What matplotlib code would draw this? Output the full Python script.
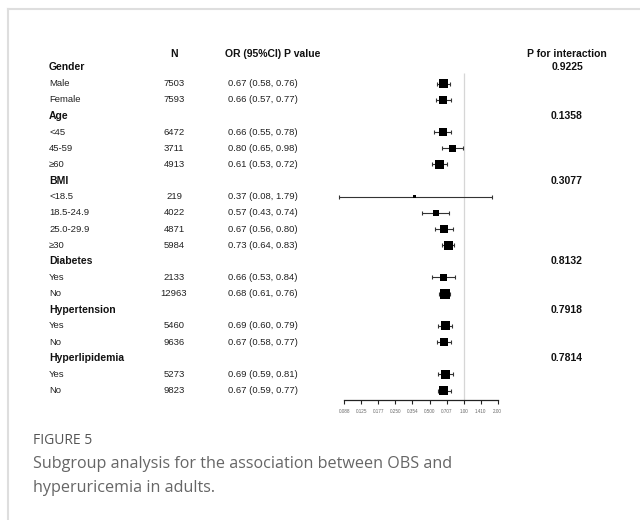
import numpy as np
import matplotlib
matplotlib.use("Agg")
import matplotlib.pyplot as plt
from matplotlib.lines import Line2D

plt.rcParams['font.family'] = ['Liberation Sans', 'DejaVu Sans']

# rows of the forest table (group headers have no estimate)
labels = ["Gender", "Male", "Female",
          "Age", "<45", "45-59", "≥60",
          "BMI", "<18.5", "18.5-24.9", "25.0-29.9", "≥30",
          "Diabetes", "Yes", "No",
          "Hypertension", "Yes", "No",
          "Hyperlipidemia", "Yes", "No"]
is_group = [True, False, False,
            True, False, False, False,
            True, False, False, False, False,
            True, False, False,
            True, False, False,
            True, False, False]
n_vals = ["", "7503", "7593",
          "", "6472", "3711", "4913",
          "", "219", "4022", "4871", "5984",
          "", "2133", "12963",
          "", "5460", "9636",
          "", "5273", "9823"]
or_est = [np.nan, 0.67, 0.66,
          np.nan, 0.66, 0.80, 0.61,
          np.nan, 0.37, 0.57, 0.67, 0.73,
          np.nan, 0.66, 0.68,
          np.nan, 0.69, 0.67,
          np.nan, 0.69, 0.67]
ci_low = [np.nan, 0.58, 0.57,
          np.nan, 0.55, 0.65, 0.53,
          np.nan, 0.08, 0.43, 0.56, 0.64,
          np.nan, 0.53, 0.61,
          np.nan, 0.60, 0.58,
          np.nan, 0.59, 0.59]
ci_high = [np.nan, 0.76, 0.77,
           np.nan, 0.78, 0.98, 0.72,
           np.nan, 1.79, 0.74, 0.80, 0.83,
           np.nan, 0.84, 0.76,
           np.nan, 0.79, 0.77,
           np.nan, 0.81, 0.77]
p_inter = ["0.9225", "", "",
           "0.1358", "", "", "",
           "0.3077", "", "", "", "",
           "0.8132", "", "",
           "0.7918", "", "",
           "0.7814", "", ""]
tick_labels = ["0.088", "0.125", "0.177", "0.250", "0.354",
               "0.500", "0.707", "1.00", "1.410", "2.00"]
caption_title = "FIGURE 5"
caption_lines = ["Subgroup analysis for the association between OBS and",
                 "hyperuricemia in adults."]

W, H = 640, 520
fig = plt.figure(figsize=(W / 100, H / 100), dpi=100)

# background axes in pixel units for the text columns
bg = fig.add_axes([0, 0, 1, 1])
bg.set_xlim(0, W)
bg.set_ylim(H, 0)
bg.axis("off")

y0, dy = 67.5, 16.15
rows = np.arange(len(labels))

def row_y(i):
    return y0 + dy * i

# column headers
hdr = dict(fontsize=7.5, fontweight="bold", color="#111", va="center")
bg.text(174, y0 - 13.5, "N", ha="center", **hdr)
bg.text(225, y0 - 13.5, "OR (95%CI) P value", ha="left", **hdr)
bg.text(567, y0 - 13.5, "P for interaction", ha="center", **hdr)

for i in rows:
    y = row_y(i)
    if is_group[i]:
        bg.text(49, y, labels[i], ha="left", **hdr)
        bg.text(567, y, p_inter[i], ha="center", **hdr)
    else:
        kw = dict(fontsize=6.8, color="#222", va="center")
        bg.text(49, y, labels[i], ha="left", **kw)
        bg.text(174, y, n_vals[i], ha="center", **kw)
        txt = "%.2f (%.2f, %.2f)" % (or_est[i], ci_low[i], ci_high[i])
        bg.text(228, y, txt, ha="left", **kw)

# forest panel
x_left, x_right = 344.3, 497.7
top_px, bot_px = row_y(-0.5), row_y(20.6)
ax = fig.add_axes([x_left / W, 1 - bot_px / H,
                   (x_right - x_left) / W, (bot_px - top_px) / H])
ax.patch.set_alpha(0)
ax.set_xscale("log", base=2)
ax.set_xlim(2 ** -3.5, 2)
ax.set_ylim(20.6, -0.5)
for s in ["top", "right", "left"]:
    ax.spines[s].set_visible(False)
ax.spines["bottom"].set_linewidth(0.9)
ax.spines["bottom"].set_color("#222")
ax.set_yticks([])
ax.set_xticks(2 ** np.arange(-3.5, 1.01, 0.5))
ax.set_xticklabels(tick_labels)
ax.xaxis.set_minor_locator(matplotlib.ticker.NullLocator())
ax.tick_params(axis="x", direction="out", length=3, width=0.8, color="#222",
               labelsize=3.3, labelcolor="#666", pad=3.5)

ax.vlines(1, 0.35, 20.6, color="#d6d6d6", lw=0.9, zorder=1)

est = np.array(or_est)
lo = np.array(ci_low)
hi = np.array(ci_high)
ok = ~np.isnan(est)
ax.errorbar(est[ok], rows[ok], xerr=[est[ok] - lo[ok], hi[ok] - est[ok]],
            fmt="none", ecolor="#333", elinewidth=0.8, capsize=1.6,
            capthick=0.8, clip_on=False, zorder=2)

# box size from inverse CI width on log scale
info = 1 / (np.log(hi[ok]) - np.log(lo[ok]))
side_px = 10 * np.sqrt(info / info.max())
ax.scatter(est[ok], rows[ok], s=(side_px * 0.72) ** 2, marker="s",
           color="black", linewidths=0, zorder=3, clip_on=False)

# page frame
fig.add_artist(Line2D([8 / W, 1], [1 - 9 / H, 1 - 9 / H], color="#dedede",
                      lw=1.5, transform=fig.transFigure))
fig.add_artist(Line2D([8 / W, 8 / W], [1 - 9 / H, 0], color="#dedede",
                      lw=1.5, transform=fig.transFigure))

# caption
bg.text(33, 440, caption_title, fontsize=10, color="#555",
        family="Open Sans", ha="left", va="center")
for k, line in enumerate(caption_lines):
    bg.text(33, 464 + 24 * k, line, fontsize=11.6, color="#666",
            family="Open Sans", ha="left", va="center")

fig.savefig("out.png", dpi=100)
